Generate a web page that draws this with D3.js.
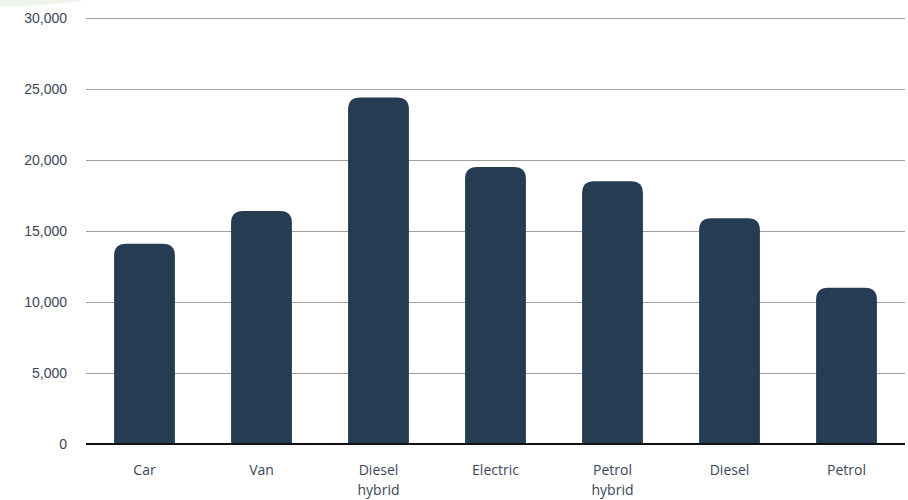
<!DOCTYPE html>
<html>
<head>
<meta charset="utf-8">
<script src="https://cdn.jsdelivr.net/npm/d3@7"></script>
<style>
  html, body { margin: 0; padding: 0; background: #ffffff; }
  svg { display: block; font-family: "Open Sans", "Noto Sans", sans-serif; }
</style>
</head>
<body>
<svg id="chart" width="908" height="500"></svg>
<script>
// Vehicle categories and their values
const categories = [["Car"], ["Van"], ["Diesel", "hybrid"], ["Electric"], ["Petrol", "hybrid"], ["Diesel"], ["Petrol"]];
const values = [14100, 16400, 24400, 19500, 18500, 15900, 11000];
const yTicks = [0, 5000, 10000, 15000, 20000, 25000, 30000];

const W = 908, H = 500;
const margin = { top: 18, right: 3, bottom: 56, left: 86 };
const svg = d3.select("#chart");

// soft decorative shape in the top-left corner
svg.append("ellipse")
  .attr("cx", 10).attr("cy", -40)
  .attr("rx", 150).attr("ry", 46)
  .attr("fill", "#eef4ec");

const keys = categories.map(c => c.join(" "));
const x = d3.scaleBand()
  .domain(keys)
  .range([margin.left, W - margin.right])
  .paddingInner(0.48)
  .paddingOuter(0.24);

const y = d3.scaleLinear()
  .domain([0, 30000])
  .range([H - margin.bottom, margin.top]);

// horizontal grid + y labels
const yAxis = d3.axisLeft(y)
  .tickValues(yTicks)
  .tickSize(0)
  .tickPadding(19)
  .tickFormat(d3.format(","));

const gy = svg.append("g")
  .attr("transform", `translate(${margin.left},0)`)
  .call(yAxis);
gy.select(".domain").remove();
gy.selectAll("text")
  .attr("fill", "#3b4658")
  .style("font-size", "14px");

svg.append("g").selectAll("line")
  .data(yTicks.filter(t => t > 0))
  .join("line")
  .attr("x1", margin.left).attr("x2", W - margin.right)
  .attr("y1", d => Math.round(y(d)) + 0.5).attr("y2", d => Math.round(y(d)) + 0.5)
  .attr("stroke", "#a0a0a0")
  .attr("stroke-width", 1);

// bars with rounded top corners
const r = 12;
function barPath(x0, w, yTop, yBase) {
  const rr = Math.min(r, w / 2, (yBase - yTop));
  return `M${x0},${yBase}V${yTop + rr}Q${x0},${yTop} ${x0 + rr},${yTop}` +
         `H${x0 + w - rr}Q${x0 + w},${yTop} ${x0 + w},${yTop + rr}V${yBase}Z`;
}

svg.append("g").selectAll("path")
  .data(values)
  .join("path")
  .attr("d", (v, i) => barPath(x(keys[i]), x.bandwidth(), y(v), y(0)))
  .attr("fill", "#263c52");

// baseline
svg.append("line")
  .attr("x1", margin.left).attr("x2", W - margin.right)
  .attr("y1", y(0)).attr("y2", y(0))
  .attr("stroke", "#111111")
  .attr("stroke-width", 2);

// category labels
const lbl = svg.append("g").selectAll("text")
  .data(categories)
  .join("text")
  .attr("x", (c, i) => x(keys[i]) + x.bandwidth() / 2)
  .attr("y", y(0) + 31)
  .attr("text-anchor", "middle")
  .attr("fill", "#3b4658")
  .style("font-size", "14px");
lbl.selectAll("tspan")
  .data(c => c)
  .join("tspan")
  .attr("x", function () { return d3.select(this.parentNode).attr("x"); })
  .attr("dy", (d, i) => i === 0 ? 0 : 20)
  .text(d => d);
</script>
</body>
</html>
